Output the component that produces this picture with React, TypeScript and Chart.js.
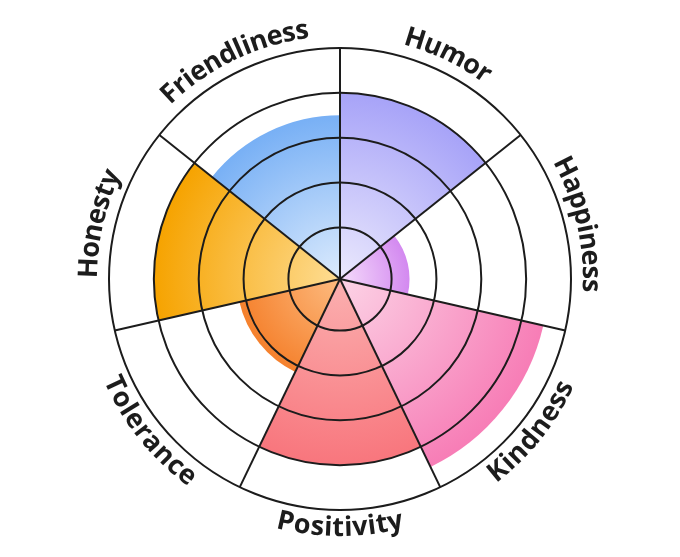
import React, { useEffect, useRef } from 'react';
import { Chart, registerables } from 'chart.js';

Chart.register(...registerables);

const categories = ['Humor', 'Happiness', 'Kindness', 'Positivity', 'Tolerance', 'Honesty', 'Friendliness'];
const values = [80, 28, 90, 80, 43, 80, 70];
const ringValues = [20, 40, 60, 80, 100];
const innerColors = ['#ebe9fd', '#f5dcfb', '#fcd3e6', '#fbb0b0', '#fdbb80', '#fedd94', '#dcebfd'];
const outerColors = ['#a7a3f8', '#d389f0', '#f77db6', '#f8767d', '#f5812d', '#f6a300', '#78b0f5'];
const SCALE_MIN = -3;
const SCALE_MAX = 100;

const LINE_COLOR = '#1c1c1c';
const FONT_SIZE = 27;
const FONT = `700 ${FONT_SIZE}px "Open Sans", "Noto Sans", sans-serif`;

function drawCurvedLabel(
  ctx: CanvasRenderingContext2D,
  text: string,
  cx: number,
  cy: number,
  midAngle: number,
  rBase: number,
  top: boolean
) {
  const chars = Array.from(text);
  const widths = chars.map((ch) => ctx.measureText(ch).width);
  const total = widths.reduce((a, b) => a + b, 0);
  const rMid = top ? rBase + FONT_SIZE * 0.35 : rBase - FONT_SIZE * 0.35;
  const span = total / rMid;
  let acc = 0;
  chars.forEach((ch, i) => {
    const w = widths[i];
    const a = top
      ? midAngle - span / 2 + (acc + w / 2) / rMid
      : midAngle + span / 2 - (acc + w / 2) / rMid;
    ctx.save();
    ctx.translate(cx + rBase * Math.cos(a), cy + rBase * Math.sin(a));
    ctx.rotate(top ? a + Math.PI / 2 : a - Math.PI / 2);
    ctx.fillText(ch, 0, 0);
    ctx.restore();
    acc += w;
  });
}

const overlayPlugin = {
  id: 'overlay',
  afterDatasetsDraw(chart: any) {
    const scale = chart.scales.r;
    const ctx: CanvasRenderingContext2D = chart.ctx;
    const cx = scale.xCenter;
    const cy = scale.yCenter;
    const outerR = scale.getDistanceFromCenterForValue(SCALE_MAX);
    ctx.save();
    ctx.strokeStyle = LINE_COLOR;
    ctx.lineWidth = 2;
    ringValues.forEach((v) => {
      const r = scale.getDistanceFromCenterForValue(v);
      ctx.beginPath();
      ctx.arc(cx, cy, r, 0, Math.PI * 2);
      ctx.stroke();
    });
    const meta = chart.getDatasetMeta(0);
    meta.data.forEach((arc: any) => {
      const a = arc.startAngle;
      ctx.beginPath();
      ctx.moveTo(cx, cy);
      ctx.lineTo(cx + outerR * Math.cos(a), cy + outerR * Math.sin(a));
      ctx.stroke();
    });
    ctx.fillStyle = LINE_COLOR;
    ctx.font = FONT;
    ctx.textAlign = 'center';
    ctx.textBaseline = 'alphabetic';
    meta.data.forEach((arc: any, i: number) => {
      const mid = (arc.startAngle + arc.endAngle) / 2;
      const top = Math.sin(mid) < 0;
      const rBase = top ? outerR + 12 : outerR + 26;
      drawCurvedLabel(ctx, categories[i], cx, cy, mid, rBase, top);
    });
    ctx.restore();
  },
};

export default function App() {
  const canvasRef = useRef<HTMLCanvasElement | null>(null);

  useEffect(() => {
    if (!canvasRef.current) return;
    const chart = new Chart(canvasRef.current, {
      type: 'polarArea',
      data: {
        labels: categories,
        datasets: [
          {
            data: values,
            borderWidth: 0,
            borderColor: 'rgba(0,0,0,0)',
            backgroundColor: (c: any) => {
              const i = c.dataIndex ?? 0;
              const chartObj = c.chart;
              const scale = chartObj.scales && chartObj.scales.r;
              if (!scale || scale.xCenter === undefined || !isFinite(scale.drawingArea) || scale.drawingArea <= 0) {
                return outerColors[i];
              }
              const r = scale.getDistanceFromCenterForValue(values[i]);
              const g = chartObj.ctx.createRadialGradient(scale.xCenter, scale.yCenter, 0, scale.xCenter, scale.yCenter, Math.max(r, 1));
              g.addColorStop(0, innerColors[i]);
              g.addColorStop(1, outerColors[i]);
              return g;
            },
          },
        ],
      },
      options: {
        responsive: false,
        animation: false,
        layout: { padding: { top: 40, bottom: 39, left: 0, right: 0 } },
        plugins: {
          legend: { display: false },
          tooltip: { enabled: false },
        },
        scales: {
          r: {
            min: SCALE_MIN,
            max: SCALE_MAX,
            ticks: { display: false, stepSize: 20 },
            grid: { display: false },
            angleLines: { display: false },
            pointLabels: { display: false },
          },
        },
      },
      plugins: [overlayPlugin],
    } as any);
    return () => chart.destroy();
  }, []);

  return (
    <div style={{ width: 664, height: 541 }}>
      <canvas ref={canvasRef} width={664} height={541} style={{ display: 'block' }} />
    </div>
  );
}
